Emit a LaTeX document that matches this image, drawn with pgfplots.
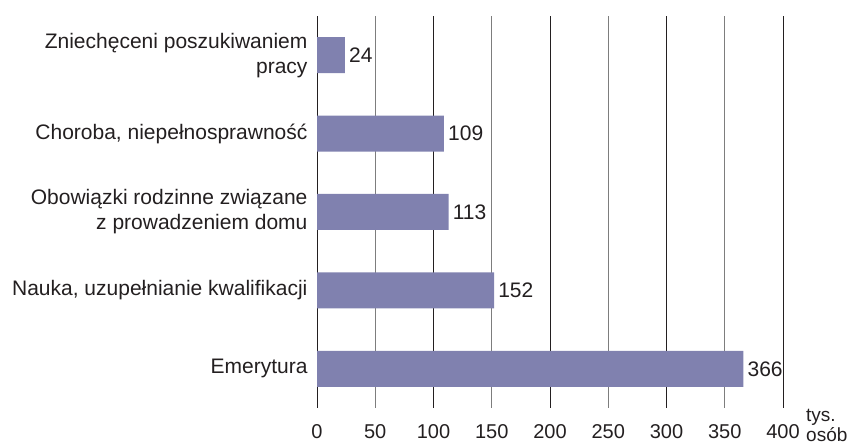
\documentclass[border=0pt]{standalone}
\usepackage{pgfplots}
\pgfplotsset{compat=1.18}
\usepackage{fontspec}
\setmainfont{Liberation Sans}
\definecolor{barc}{RGB}{128,129,175}
\definecolor{txt}{RGB}{35,31,32}
\definecolor{gr}{RGB}{125,125,125}
\begin{document}
\begin{tikzpicture}[x=1pt,y=1pt]
\useasboundingbox (0,0) rectangle (856,446);
\begin{axis}[
  name=ax,
  at={(317pt,38pt)}, anchor=south west,
  scale only axis, width=466pt, height=392pt,
  xmin=0, xmax=400, ymin=-0.5, ymax=4.5,
  xbar, bar width=36pt,
  axis line style={draw=none},
  xtick={0,100,200,300,400},
  extra x ticks={50,150,250,350},
  extra x tick style={grid style={gr, line width=1pt}},
  xmajorgrids, grid style={txt, line width=1pt},
  major tick length=0pt,
  ytick={0,1,2,3,4},
  yticklabels={Emerytura, {Nauka, uzupełnianie kwalifikacji}, {Obowiązki rodzinne związane\\z prowadzeniem domu}, {Choroba, niepełnosprawność}, {Zniechęceni poszukiwaniem\\pracy}},
  yticklabel style={align=right, font=\fontsize{21}{25}\selectfont, text=txt, xshift=-6pt},
  xticklabel style={font=\fontsize{20}{24}\selectfont, text=txt, yshift=-13pt},
  /pgf/number format/assume math mode=true,
  nodes near coords,
  nodes near coords style={font=\fontsize{21}{25}\selectfont, text=txt, anchor=west, inner sep=4pt},
]
\addplot[fill=barc, draw=none] coordinates {(366,0) (152,1) (113,2) (109,3) (24,4)};
\end{axis}
\node[anchor=north west, align=left, font=\fontsize{19}{20}\selectfont, text=txt, inner sep=0pt] at (806,37) {tys.\\osób};
\end{tikzpicture}
\end{document}
